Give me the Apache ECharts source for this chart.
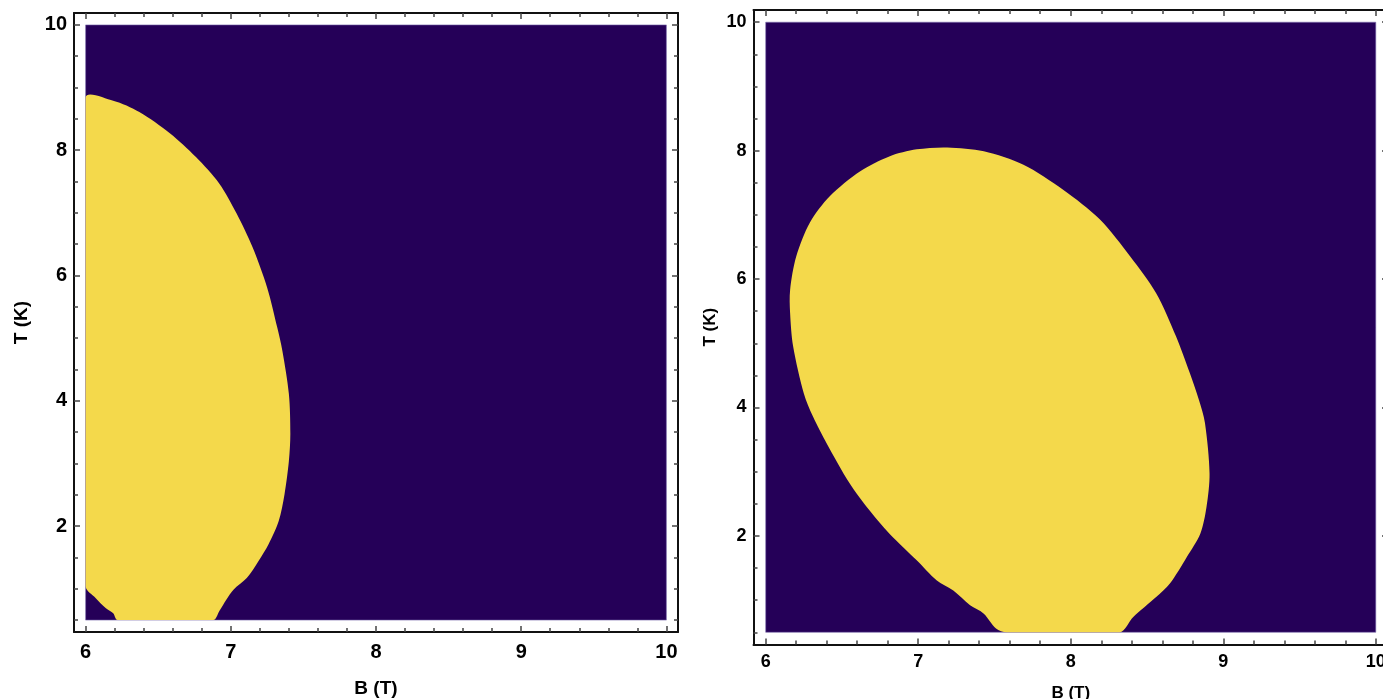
<!DOCTYPE html>
<html>
<head>
<meta charset="utf-8">
<script src="https://cdn.jsdelivr.net/npm/echarts@6/dist/echarts.min.js"></script>
<style>
html,body{margin:0;padding:0;background:#fff;}
#chart{width:1383px;height:699px;}
</style>
</head>
<body>
<div id="chart"></div>
<script>
// ---- data ----
const B_RANGE = [6, 10];
const T_RANGE = [0.5, 10];
const B_TICKS = [6, 7, 8, 9, 10];
const B_MINOR = [6.2, 6.4, 6.6, 6.8, 7.2, 7.4, 7.6, 7.8, 8.2, 8.4, 8.6, 8.8, 9.2, 9.4, 9.6, 9.8];
const T_TICKS = [2, 4, 6, 8, 10];
const T_MINOR = [0.5, 1, 1.5, 2.5, 3, 3.5, 4.5, 5, 5.5, 6.5, 7, 7.5, 8.5, 9, 9.5];

// boundary of the yellow region, left panel
const leftB = [6.0, 6.19, 6.37, 6.58, 6.76, 6.92, 7.04, 7.15, 7.25, 7.32, 7.355, 7.40, 7.41, 7.40, 7.37, 7.33, 7.26, 7.19, 7.11, 7.02, 6.97, 6.92, 6.88, 6.22, 6.19, 6.14, 6.07, 6.0];
const leftT = [8.84, 8.79, 8.61, 8.27, 7.89, 7.47, 6.99, 6.45, 5.81, 5.17, 4.80, 4.11, 3.47, 3.04, 2.51, 2.08, 1.71, 1.44, 1.17, 0.99, 0.83, 0.64, 0.5, 0.5, 0.61, 0.69, 0.85, 1.04];

// boundary of the yellow region, right panel
const rightB = [7.19, 7.43, 7.69, 7.95, 8.19, 8.39, 8.56, 8.69, 8.78, 8.84, 8.88, 8.91, 8.89, 8.85, 8.76, 8.65, 8.56, 8.41, 8.32, 7.58, 7.51, 7.43, 7.34, 7.23, 7.12, 6.99, 6.81, 6.68, 6.55, 6.40, 6.31, 6.25, 6.18, 6.16, 6.16, 6.20, 6.29, 6.42, 6.62, 6.81, 6.99];
const rightT = [8.05, 7.99, 7.78, 7.39, 6.93, 6.35, 5.78, 5.11, 4.54, 4.12, 3.76, 2.97, 2.45, 2.04, 1.67, 1.26, 1.05, 0.74, 0.5, 0.5, 0.56, 0.79, 0.92, 1.15, 1.31, 1.62, 2.04, 2.40, 2.82, 3.44, 3.86, 4.22, 4.95, 5.47, 5.83, 6.35, 6.88, 7.29, 7.68, 7.91, 8.02];

const X_NAME = 'B (T)';
const Y_NAME = 'T (K)';

// ---- styling ----
const PURPLE = '#250058';
const YELLOW = '#f4d94b';
const FONT = "'Liberation Sans', Arial, sans-serif";
const X_MIN = 5.92, X_MAX = 10.08, Y_MIN = 0.31, Y_MAX = 10.19;

const panels = [
  { grid: { left: 74, top: 13, width: 604, height: 619 }, fs: 20, nfs: 19, xGap: 47, yGap: 43, lblMargin: 10 },
  { grid: { left: 753.5, top: 10, width: 634.5, height: 634.5 }, fs: 18, nfs: 17, xGap: 40, yGap: 35, lblMargin: 9 }
];

const grids = [], xAxes = [], yAxes = [], series = [];
const lineStyle = { color: '#111', width: 2 };
const tickStyle = { color: '#444', width: 1.5 };

panels.forEach((p, g) => {
  grids.push(Object.assign({ containLabel: false, outerBoundsMode: 'none' }, p.grid));
  const xBase = xAxes.length, yBase = yAxes.length;
  const labelStyle = { color: '#000', fontWeight: 'bold', fontSize: p.fs, fontFamily: FONT };
  // x axes: bottom major (labels), bottom minor, top major, top minor
  xAxes.push({
    gridIndex: g, type: 'value', min: X_MIN, max: X_MAX, position: 'bottom',
    axisLine: { show: true, lineStyle: lineStyle },
    axisTick: { show: true, inside: true, length: 6, customValues: B_TICKS, lineStyle: tickStyle },
    axisLabel: Object.assign({ show: true, customValues: B_TICKS, margin: p.lblMargin, hideOverlap: false, formatter: v => String(Math.round(v)) }, labelStyle),
    splitLine: { show: false },
    name: X_NAME, nameLocation: 'middle', nameGap: p.xGap,
    nameTextStyle: { color: '#000', fontWeight: 'bold', fontSize: p.nfs, fontFamily: FONT }
  });
  xAxes.push({
    gridIndex: g, type: 'value', min: X_MIN, max: X_MAX, position: 'bottom',
    axisLine: { show: false },
    axisTick: { show: true, inside: true, length: 4, customValues: B_MINOR, lineStyle: tickStyle },
    axisLabel: { show: false }, splitLine: { show: false }
  });
  xAxes.push({
    gridIndex: g, type: 'value', min: X_MIN, max: X_MAX, position: 'top',
    axisLine: { show: true, lineStyle: lineStyle },
    axisTick: { show: true, inside: true, length: 6, customValues: B_TICKS, lineStyle: tickStyle },
    axisLabel: { show: false }, splitLine: { show: false }
  });
  xAxes.push({
    gridIndex: g, type: 'value', min: X_MIN, max: X_MAX, position: 'top',
    axisLine: { show: false },
    axisTick: { show: true, inside: true, length: 4, customValues: B_MINOR, lineStyle: tickStyle },
    axisLabel: { show: false }, splitLine: { show: false }
  });
  // y axes
  yAxes.push({
    gridIndex: g, type: 'value', min: Y_MIN, max: Y_MAX, position: 'left',
    axisLine: { show: true, lineStyle: lineStyle },
    axisTick: { show: true, inside: true, length: 6, customValues: T_TICKS, lineStyle: tickStyle },
    axisLabel: Object.assign({ show: true, customValues: T_TICKS, margin: 7, hideOverlap: false, formatter: v => String(Math.round(v)) }, labelStyle),
    splitLine: { show: false },
    name: Y_NAME, nameLocation: 'middle', nameGap: p.yGap,
    nameTextStyle: { color: '#000', fontWeight: 'bold', fontSize: p.nfs, fontFamily: FONT }
  });
  yAxes.push({
    gridIndex: g, type: 'value', min: Y_MIN, max: Y_MAX, position: 'left',
    axisLine: { show: false },
    axisTick: { show: true, inside: true, length: 4, customValues: T_MINOR, lineStyle: tickStyle },
    axisLabel: { show: false }, splitLine: { show: false }
  });
  yAxes.push({
    gridIndex: g, type: 'value', min: Y_MIN, max: Y_MAX, position: 'right',
    axisLine: { show: true, lineStyle: lineStyle },
    axisTick: { show: true, inside: true, length: 6, customValues: T_TICKS, lineStyle: tickStyle },
    axisLabel: { show: false }, splitLine: { show: false }
  });
  yAxes.push({
    gridIndex: g, type: 'value', min: Y_MIN, max: Y_MAX, position: 'right',
    axisLine: { show: false },
    axisTick: { show: true, inside: true, length: 4, customValues: T_MINOR, lineStyle: tickStyle },
    axisLabel: { show: false }, splitLine: { show: false }
  });

  // background region
  series.push({
    type: 'custom', xAxisIndex: xBase, yAxisIndex: yBase, silent: true, z: 1,
    data: [[B_RANGE[0], T_RANGE[0], B_RANGE[1], T_RANGE[1]]],
    renderItem: function (params, api) {
      const a = api.coord([api.value(0), api.value(1)]);
      const b = api.coord([api.value(2), api.value(3)]);
      return {
        type: 'rect',
        shape: { x: a[0], y: b[1], width: b[0] - a[0], height: a[1] - b[1] },
        style: { fill: PURPLE, stroke: '#8070b0', lineWidth: 0.6 }
      };
    }
  });
  // yellow region
  const bs = g === 0 ? leftB : rightB;
  const ts = g === 0 ? leftT : rightT;
  const pts = bs.map((b, i) => [b, ts[i]]);
  series.push({
    type: 'custom', xAxisIndex: xBase, yAxisIndex: yBase, silent: true, z: 2,
    data: pts,
    renderItem: function (params, api) {
      if (params.dataIndex !== 0) return null;
      const poly = pts.map(q => api.coord(q));
      const lo = api.coord([B_RANGE[0], T_RANGE[0]]);
      const hi = api.coord([B_RANGE[1], T_RANGE[1]]);
      return {
        type: 'polygon',
        shape: { points: poly, smooth: 0.3, smoothConstraint: [[lo[0], hi[1]], [hi[0], lo[1]]] },
        style: { fill: YELLOW }
      };
    }
  });
});

const chart = echarts.init(document.getElementById('chart'), null, { renderer: 'canvas' });
chart.setOption({
  animation: false,
  backgroundColor: '#fff',
  grid: grids,
  xAxis: xAxes,
  yAxis: yAxes,
  series: series
});
</script>
</body>
</html>
